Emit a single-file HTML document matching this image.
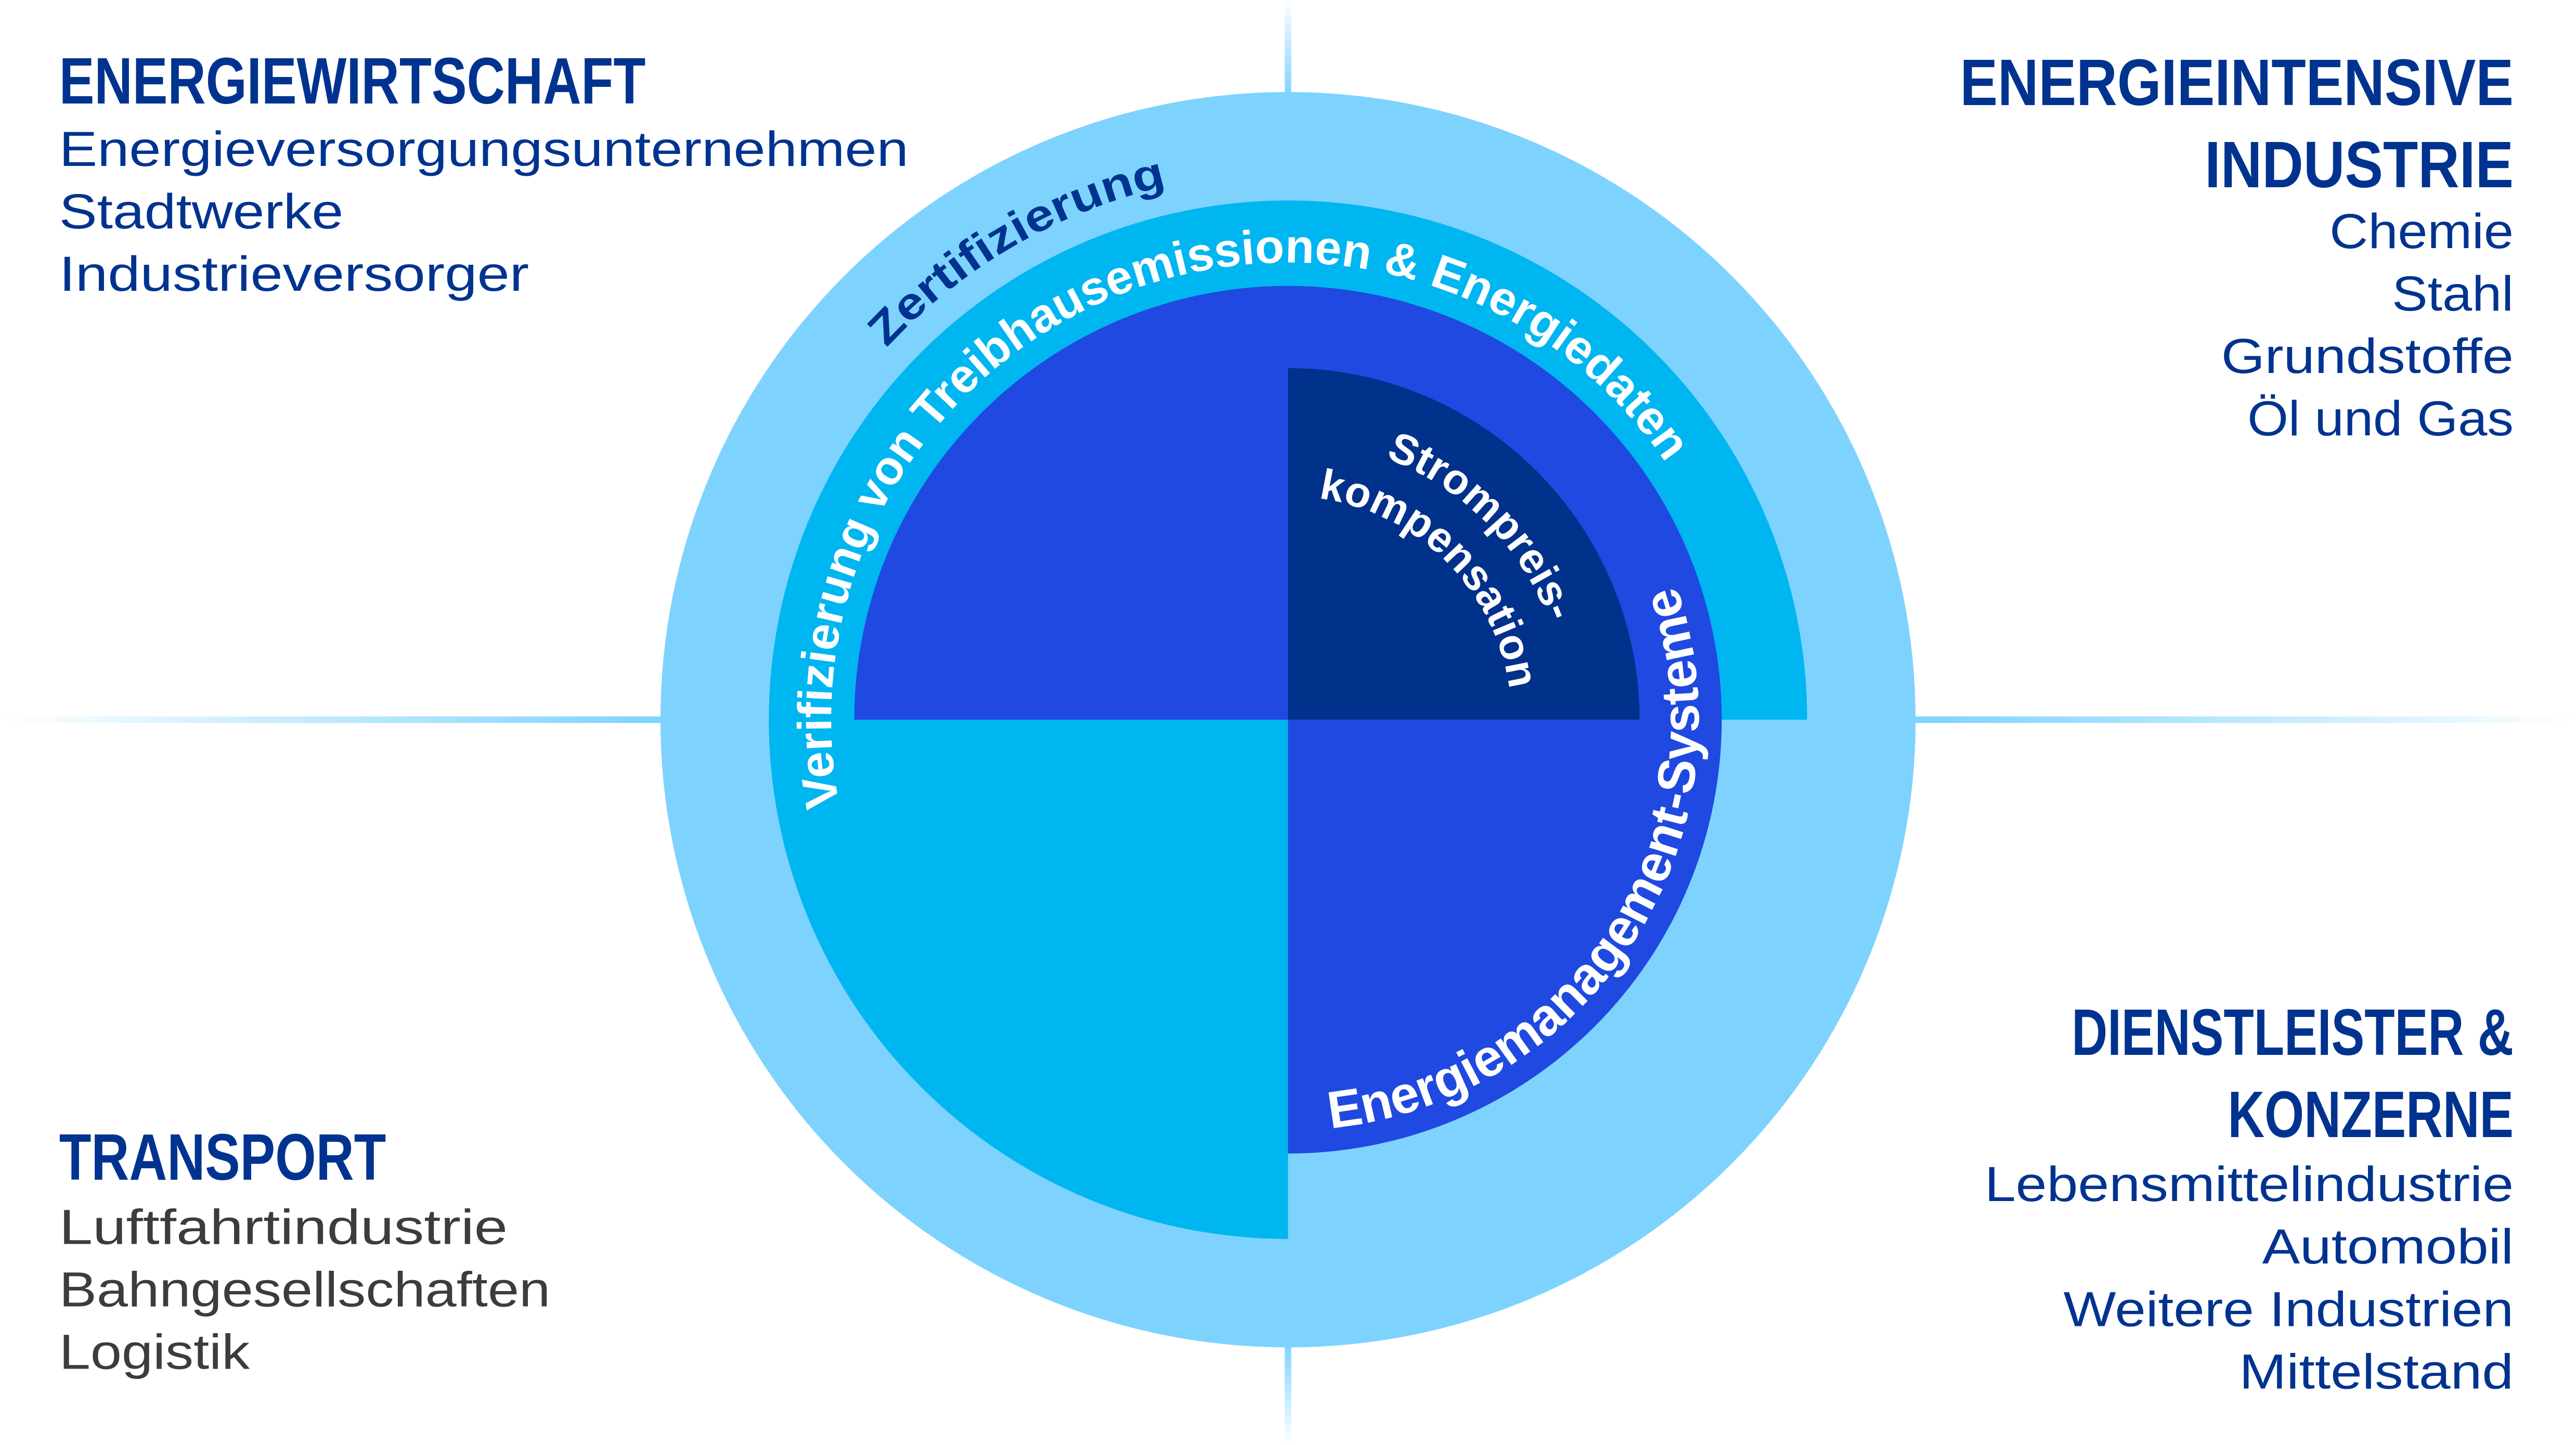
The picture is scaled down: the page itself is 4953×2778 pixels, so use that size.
<!DOCTYPE html>
<html><head><meta charset="utf-8"><style>
html,body{margin:0;padding:0;background:#fff;}
svg{display:block;}
.h{font-family:"Liberation Sans Narrow","Liberation Sans",sans-serif;font-weight:bold;fill:#00338f;font-size:40px;}
.b{font-family:"Liberation Sans",sans-serif;fill:#00338f;font-size:30px;}
.g{fill:#3c3c3c;}
.c{font-family:"Liberation Sans Narrow","Liberation Sans",sans-serif;font-weight:bold;}
</style></head><body>
<svg width="4953" height="2778" viewBox="0 0 1568 879.4" preserveAspectRatio="none" xmlns="http://www.w3.org/2000/svg">
<defs>
<linearGradient id="lg1" x1="0" x2="1" y1="0" y2="0"><stop offset="0" stop-color="#7dd3fd" stop-opacity="0"/><stop offset="1" stop-color="#7dd3fd"/></linearGradient>
<linearGradient id="lg2" x1="0" x2="1" y1="0" y2="0"><stop offset="0" stop-color="#7dd3fd"/><stop offset="1" stop-color="#7dd3fd" stop-opacity="0"/></linearGradient>
<linearGradient id="lg3" x1="0" x2="0" y1="0" y2="1"><stop offset="0" stop-color="#7dd3fd" stop-opacity="0"/><stop offset="1" stop-color="#7dd3fd"/></linearGradient>
<linearGradient id="lg4" x1="0" x2="0" y1="0" y2="1"><stop offset="0" stop-color="#7dd3fd"/><stop offset="1" stop-color="#7dd3fd" stop-opacity="0"/></linearGradient>
<path id="pZ" d="M451,438 A333,333 0 0 1 950.5,149.6"/>
<path id="pV" d="M543.3,577 A278,278 0 1 1 1052.5,366"/>
<path id="pE" d="M740.6,684.2 A250,250 0 0 0 988.8,294.6"/>
<path id="pS" d="M798.8,268.7 A170,170 0 0 1 953.3,423.2"/>
<path id="pK" d="M795.9,302.5 A136,136 0 0 1 919.5,426.1"/>
</defs>
<rect x="0" y="436" width="403" height="4" fill="url(#lg1)"/>
<rect x="1165" y="436" width="403" height="4" fill="url(#lg2)"/>
<rect x="782" y="0" width="4" height="58" fill="url(#lg3)"/>
<rect x="782" y="818" width="4" height="61" fill="url(#lg4)"/>

<circle cx="784" cy="438" r="382" fill="#7dd3fd"/>
<circle cx="784" cy="438" r="316" fill="#00b6f1"/>
<path d="M784,438 L1166,438 A382,382 0 0 1 784,820 Z" fill="#7dd3fd"/>
<circle cx="784" cy="438" r="264" fill="#1f49e0"/>
<path d="M784,438 L784,754 A316,316 0 0 1 468,438 Z" fill="#00b6f1"/>
<path d="M784,438 L784,224 A214,214 0 0 1 998,438 Z" fill="#00318b"/>

<text class="c" font-size="27" fill="#00338f"><textPath href="#pZ" startOffset="50%" text-anchor="middle" textLength="200" lengthAdjust="spacingAndGlyphs">Zertifizierung</textPath></text>
<text class="c" font-size="29" fill="#fff"><textPath href="#pV" startOffset="50%" text-anchor="middle" textLength="760" lengthAdjust="spacingAndGlyphs">Verifizierung von Treibhausemissionen &amp; Energiedaten</textPath></text>
<text class="c" font-size="32" fill="#fff"><textPath href="#pE" startOffset="50%" text-anchor="middle" textLength="450" lengthAdjust="spacingAndGlyphs">Energiemanagement-Systeme</textPath></text>
<text class="c" font-size="26" fill="#fff"><textPath href="#pS" startOffset="50%" text-anchor="middle">Strompreis-</textPath></text>
<text class="c" font-size="26" fill="#fff"><textPath href="#pK" startOffset="50%" text-anchor="middle">kompensation</textPath></text>

<text class="h" x="36" y="63" textLength="357" lengthAdjust="spacingAndGlyphs">ENERGIEWIRTSCHAFT</text>
<text class="b" x="36" y="101" textLength="517" lengthAdjust="spacingAndGlyphs">Energieversorgungsunternehmen</text>
<text class="b" x="36" y="139" textLength="173" lengthAdjust="spacingAndGlyphs">Stadtwerke</text>
<text class="b" x="36" y="177" textLength="286" lengthAdjust="spacingAndGlyphs">Industrieversorger</text>

<g text-anchor="end">
<text class="h" x="1530" y="64" textLength="337" lengthAdjust="spacingAndGlyphs">ENERGIEINTENSIVE</text>
<text class="h" x="1530" y="114" textLength="188" lengthAdjust="spacingAndGlyphs">INDUSTRIE</text>
<text class="b" x="1530" y="151" textLength="112" lengthAdjust="spacingAndGlyphs">Chemie</text>
<text class="b" x="1530" y="189" textLength="74" lengthAdjust="spacingAndGlyphs">Stahl</text>
<text class="b" x="1530" y="227" textLength="178" lengthAdjust="spacingAndGlyphs">Grundstoffe</text>
<text class="b" x="1530" y="265" textLength="162" lengthAdjust="spacingAndGlyphs">Öl und Gas</text>

<text class="h" x="1530" y="642" textLength="269" lengthAdjust="spacingAndGlyphs">DIENSTLEISTER &amp;</text>
<text class="h" x="1530" y="692" textLength="174" lengthAdjust="spacingAndGlyphs">KONZERNE</text>
<text class="b" x="1530" y="731" textLength="322" lengthAdjust="spacingAndGlyphs">Lebensmittelindustrie</text>
<text class="b" x="1530" y="769" textLength="153" lengthAdjust="spacingAndGlyphs">Automobil</text>
<text class="b" x="1530" y="807" textLength="274" lengthAdjust="spacingAndGlyphs">Weitere Industrien</text>
<text class="b" x="1530" y="845" textLength="167" lengthAdjust="spacingAndGlyphs">Mittelstand</text>
</g>

<text class="h" x="36" y="718" textLength="199" lengthAdjust="spacingAndGlyphs">TRANSPORT</text>
<text class="b g" x="36" y="757" textLength="273" lengthAdjust="spacingAndGlyphs">Luftfahrtindustrie</text>
<text class="b g" x="36" y="795" textLength="299" lengthAdjust="spacingAndGlyphs">Bahngesellschaften</text>
<text class="b g" x="36" y="833" textLength="116" lengthAdjust="spacingAndGlyphs">Logistik</text>
</svg>
</body></html>
